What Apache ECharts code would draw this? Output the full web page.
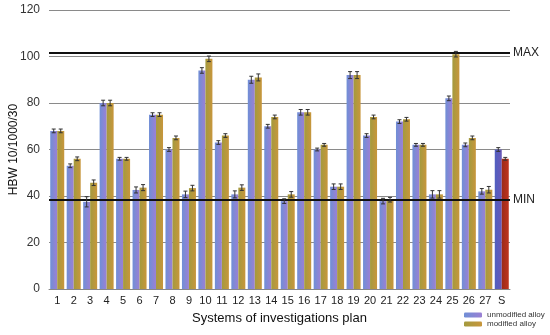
<!DOCTYPE html>
<html>
<head>
<meta charset="utf-8">
<script src="https://cdn.jsdelivr.net/npm/echarts@6/dist/echarts.min.js"></script>
<style>
  html, body { margin: 0; padding: 0; background: #fff; }
  #main { width: 550px; height: 335px; }
</style>
</head>
<body>
<div id="main"></div>
<script>
// systems of the investigation plan (S = standard)
var systems = ['1','2','3','4','5','6','7','8','9','10','11','12','13','14','15','16','17','18','19','20','21','22','23','24','25','26','27','S'];
var unmodified = [68, 53, 37.5, 80, 56, 42.6, 75, 60, 40.7, 94, 63, 40.7, 90, 70, 37.8, 76, 60, 44, 92, 66, 37.8, 72, 62, 40.7, 82, 62, 42, 60];
var modified   = [68, 56, 45.7, 80, 56, 43.6, 75, 65, 43.4, 99, 66, 43.6, 91, 74, 40.7, 76, 62, 44, 92, 74, 38.4, 73, 62, 40.7, 101, 65, 42.7, 56];
var unmodErr   = [0.8, 0.8, 2.2, 1.2, 0.6, 1.3, 0.8, 0.8, 1.4, 1.2, 0.8, 1.5, 1.5, 0.8, 1.0, 1.2, 0.6, 1.2, 1.5, 0.8, 1.2, 0.8, 0.6, 1.6, 1.0, 0.8, 1.2, 0.8];
var modErr     = [0.8, 0.8, 1.2, 1.2, 0.6, 1.3, 0.8, 0.8, 1.2, 1.2, 0.8, 1.2, 1.5, 0.8, 1.2, 1.2, 0.6, 1.2, 1.5, 0.8, 1.0, 0.8, 0.6, 1.6, 1.2, 0.8, 1.4, 0.6];
var yTicks = [0, 20, 40, 60, 80, 100, 120];
var maxLimit = 101.5;
var minLimit = 38.5;

var myChart = echarts.init(document.getElementById('main'));

var BAR_W = 7;

function grad(a, b) {
  return new echarts.graphic.LinearGradient(0, 0, 1, 0, [
    { offset: 0, color: a }, { offset: 1, color: b }
  ]);
}

var unmodColor = grad('#6f8fd6', '#9b80d4');
var modColor = grad('#a39a3e', '#c8963c');

// the standard alloy "S" uses its own colours
var unmodData = unmodified.map(function (v, i) {
  if (systems[i] === 'S') return { value: v, itemStyle: { color: grad('#4f5fc0', '#6a58b8') } };
  return v;
});
var modData = modified.map(function (v, i) {
  if (systems[i] === 'S') return { value: v, itemStyle: { color: grad('#9a2a18', '#c0331e') } };
  return v;
});

function errorRender(offset) {
  return function (params, api) {
    var x = api.value(0), v = api.value(1), e = api.value(2);
    var hi = api.coord([x, v + e]);
    var lo = api.coord([x, v - e]);
    var cx = hi[0] + offset;
    var st = { stroke: '#333', lineWidth: 1 };
    return {
      type: 'group',
      children: [
        { type: 'line', shape: { x1: cx, y1: hi[1], x2: cx, y2: lo[1] }, style: st },
        { type: 'line', shape: { x1: cx - 2, y1: hi[1], x2: cx + 2, y2: hi[1] }, style: st },
        { type: 'line', shape: { x1: cx - 2, y1: lo[1], x2: cx + 2, y2: lo[1] }, style: st }
      ]
    };
  };
}

var legendText = { fontSize: 8, color: '#333', fontFamily: 'Liberation Sans' };

var option = {
  animation: false,
  grid: { left: 49, right: 40, top: 10, bottom: 46, containLabel: false, outerBoundsMode: 'none' },
  legend: [
    {
      left: 464, top: 311, padding: 0,
      itemWidth: 18, itemHeight: 5, itemGap: 4,
      textStyle: legendText,
      data: ['unmodified alloy']
    },
    {
      left: 464, top: 320, padding: 0,
      itemWidth: 18, itemHeight: 5, itemGap: 4,
      textStyle: legendText,
      data: ['modified alloy']
    }
  ],
  xAxis: {
    type: 'category',
    data: systems,
    name: 'Systems of investigations plan',
    nameLocation: 'middle',
    nameGap: 23,
    nameTextStyle: { fontSize: 13, color: '#111', fontFamily: 'Liberation Sans' },
    axisLine: { lineStyle: { color: '#888' } },
    axisTick: { show: false },
    axisLabel: { fontSize: 11, color: '#222', margin: 6, interval: 0, fontFamily: 'Liberation Sans' }
  },
  yAxis: {
    type: 'value',
    min: yTicks[0],
    max: yTicks[yTicks.length - 1],
    interval: 20,
    name: 'HBW 10/1000/30',
    nameLocation: 'middle',
    nameGap: 29,
    nameMoveOverlap: false,
    nameTextStyle: { fontSize: 12, color: '#111', fontFamily: 'Liberation Sans' },
    axisLine: { show: false },
    axisTick: { show: false },
    axisLabel: { fontSize: 12, color: '#333', margin: 9, fontFamily: 'Liberation Sans' },
    splitLine: { lineStyle: { color: '#8a8a8a', width: 1 } }
  },
  series: [
    {
      name: 'unmodified alloy',
      type: 'bar',
      data: unmodData,
      barWidth: BAR_W,
      barGap: '0%',
      itemStyle: { color: unmodColor },
      markLine: {
        symbol: 'none',
        silent: true,
        lineStyle: { color: '#111', width: 2, type: 'solid' },
        label: { position: 'end', fontSize: 12, color: '#222', distance: 3, fontFamily: 'Liberation Sans' },
        data: [
          { yAxis: maxLimit, label: { formatter: 'MAX' } },
          { yAxis: minLimit, label: { formatter: 'MIN' } }
        ]
      }
    },
    {
      name: 'modified alloy',
      type: 'bar',
      data: modData,
      barWidth: BAR_W,
      barGap: '0%',
      itemStyle: { color: modColor }
    },
    {
      type: 'custom',
      renderItem: errorRender(-BAR_W / 2),
      data: unmodified.map(function (v, i) { return [i, v, unmodErr[i]]; }),
      z: 5,
      silent: true
    },
    {
      type: 'custom',
      renderItem: errorRender(BAR_W / 2),
      data: modified.map(function (v, i) { return [i, v, modErr[i]]; }),
      z: 5,
      silent: true
    }
  ]
};

myChart.setOption(option);
</script>
</body>
</html>
